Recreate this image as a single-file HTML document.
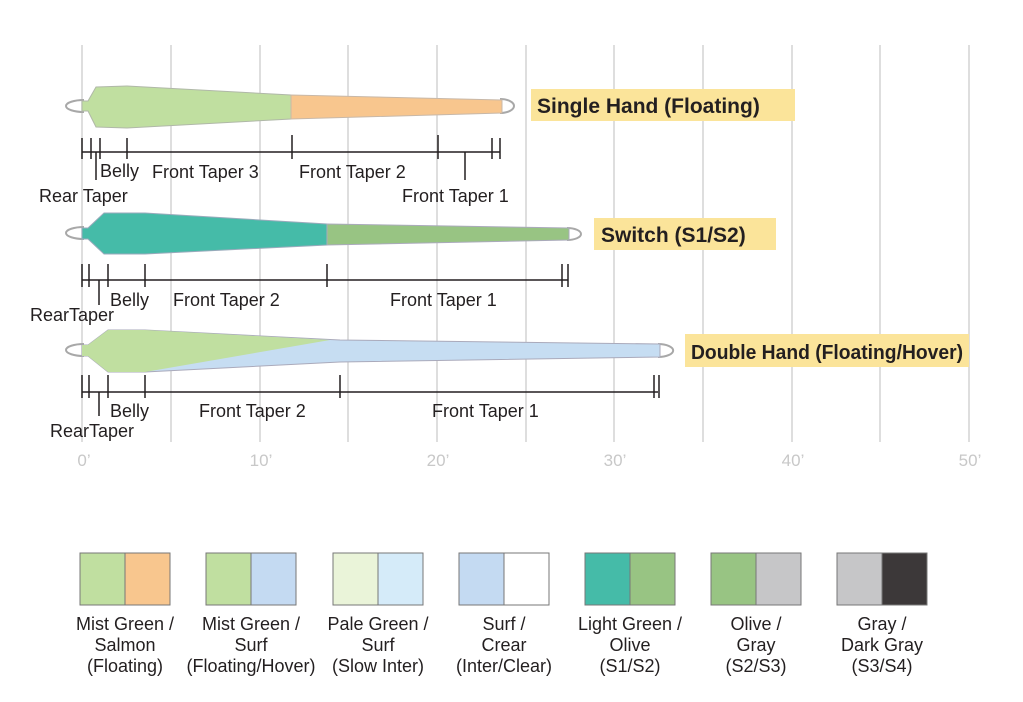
<!DOCTYPE html>
<html><head><meta charset="utf-8"><style>
html,body{margin:0;padding:0;background:#fff;}
svg{display:block;}
text{font-family:"Liberation Sans",sans-serif;fill:#231f20;}
</style></head><body>
<svg width="1023" height="702" viewBox="0 0 1023 702" xmlns="http://www.w3.org/2000/svg">
<g stroke="#d4d4d4" stroke-width="1.5">
<line x1="82" y1="45" x2="82" y2="442"/><line x1="171" y1="45" x2="171" y2="442"/>
<line x1="260" y1="45" x2="260" y2="442"/><line x1="348" y1="45" x2="348" y2="442"/>
<line x1="437" y1="45" x2="437" y2="442"/><line x1="526" y1="45" x2="526" y2="442"/>
<line x1="614" y1="45" x2="614" y2="442"/><line x1="703" y1="45" x2="703" y2="442"/>
<line x1="792" y1="45" x2="792" y2="442"/><line x1="880" y1="45" x2="880" y2="442"/>
<line x1="969" y1="45" x2="969" y2="442"/>
</g>
<g font-size="17" text-anchor="middle">
<text x="84" y="466" style="fill:#c8c8c8">0’</text><text x="261" y="466" style="fill:#c8c8c8">10’</text>
<text x="438" y="466" style="fill:#c8c8c8">20’</text><text x="615" y="466" style="fill:#c8c8c8">30’</text>
<text x="793" y="466" style="fill:#c8c8c8">40’</text><text x="970" y="466" style="fill:#c8c8c8">50’</text>
</g>

<path d="M84,100 A18,6 0 1 0 84,112" fill="none" stroke="#a8a8a8" stroke-width="2"/>
<path d="M500,99 A14,7 0 0 1 500,113" fill="none" stroke="#a8a8a8" stroke-width="2"/>
<path d="M82,101 L88,101 L96,87 L127,86 L291,95 L291,119 L127,128 L96,127 L88,111 L82,111 Z" fill="#c0dfa0" stroke="#b0b8a8" stroke-width="1"/>
<path d="M291,95 L502,100 L502,113 L291,119 Z" fill="#f8c68e" stroke="#c8b8a8" stroke-width="1"/>
<g stroke="#231f20" stroke-width="1.5">
<line x1="82" y1="152" x2="500" y2="152"/>
<line x1="82" y1="138" x2="82" y2="159"/><line x1="91" y1="138" x2="91" y2="159"/>
<line x1="100" y1="138" x2="100" y2="159"/><line x1="127" y1="138" x2="127" y2="159"/>
<line x1="292" y1="135" x2="292" y2="159"/><line x1="438" y1="135" x2="438" y2="159"/>
<line x1="492" y1="138" x2="492" y2="159"/><line x1="500" y1="138" x2="500" y2="159"/>
<line x1="96" y1="152" x2="96" y2="180"/><line x1="465" y1="152" x2="465" y2="180"/>
</g>
<g font-size="18">
<text x="100" y="177">Belly</text><text x="152" y="178">Front Taper 3</text>
<text x="299" y="178">Front Taper 2</text><text x="39" y="202">Rear Taper</text>
<text x="402" y="202">Front Taper 1</text>
</g>
<rect x="531" y="89" width="264" height="32" fill="#fbe49a"/>
<text x="537" y="113" font-size="21" font-weight="bold">Single Hand (Floating)</text>

<path d="M84,227 A18,6 0 1 0 84,239" fill="none" stroke="#a8a8a8" stroke-width="2"/>
<path d="M567,228 A14,6 0 0 1 567,240" fill="none" stroke="#a8a8a8" stroke-width="2"/>
<path d="M82,228 L88,228 L104,213 L145,213 L327,224 L327,245 L145,254 L104,254 L88,239 L82,239 Z" fill="#45bba8" stroke="#9ab" stroke-width="1"/>
<path d="M327,224 L569,228 L569,240 L327,245 Z" fill="#98c483" stroke="#aab" stroke-width="1"/>
<g stroke="#231f20" stroke-width="1.5">
<line x1="82" y1="280" x2="568" y2="280"/>
<line x1="82" y1="264" x2="82" y2="287"/><line x1="89" y1="264" x2="89" y2="287"/>
<line x1="108" y1="264" x2="108" y2="287"/><line x1="145" y1="264" x2="145" y2="287"/>
<line x1="327" y1="264" x2="327" y2="287"/><line x1="562" y1="264" x2="562" y2="287"/>
<line x1="568" y1="264" x2="568" y2="287"/><line x1="99" y1="280" x2="99" y2="305"/>
</g>
<g font-size="18">
<text x="110" y="306">Belly</text><text x="173" y="306">Front Taper 2</text>
<text x="390" y="306">Front Taper 1</text><text x="30" y="321">RearTaper</text>
</g>
<rect x="594" y="218" width="182" height="32" fill="#fbe49a"/>
<text x="601" y="242" font-size="21" font-weight="bold">Switch (S1/S2)</text>

<path d="M84,344 A18,6 0 1 0 84,356" fill="none" stroke="#a8a8a8" stroke-width="2"/>
<path d="M658,344 A14,6 0 0 1 658,357" fill="none" stroke="#a8a8a8" stroke-width="2"/>
<path d="M82,345 L88,345 L108,330 L145,330 L340,340 L660,344 L660,357 L340,362 L145,372 L108,372 L88,356 L82,356 Z" fill="#c6ddf2" stroke="#aab" stroke-width="1"/>
<path d="M82,345 L88,345 L108,330 L145,330 L330,340 L145,372 L108,372 L88,356 L82,356 Z" fill="#c0dfa0"/>
<g stroke="#231f20" stroke-width="1.5">
<line x1="82" y1="392" x2="658" y2="392"/>
<line x1="82" y1="375" x2="82" y2="398"/><line x1="89" y1="375" x2="89" y2="398"/>
<line x1="108" y1="375" x2="108" y2="398"/><line x1="145" y1="375" x2="145" y2="398"/>
<line x1="340" y1="375" x2="340" y2="398"/><line x1="654" y1="375" x2="654" y2="398"/>
<line x1="659" y1="375" x2="659" y2="398"/><line x1="99" y1="392" x2="99" y2="416"/>
</g>
<g font-size="18">
<text x="110" y="417">Belly</text><text x="199" y="417">Front Taper 2</text>
<text x="432" y="417">Front Taper 1</text><text x="50" y="437">RearTaper</text>
</g>
<rect x="685" y="334" width="284" height="33" fill="#fbe49a"/>
<text x="691" y="359" font-size="20" font-weight="bold" textLength="272" lengthAdjust="spacingAndGlyphs">Double Hand (Floating/Hover)</text>

<g stroke="#777" stroke-width="1">
<rect x="80" y="553" width="45" height="52" fill="#c0dfa0"/><rect x="125" y="553" width="45" height="52" fill="#f8c68e"/>
<rect x="206" y="553" width="45" height="52" fill="#c0dfa0"/><rect x="251" y="553" width="45" height="52" fill="#c4daf2"/>
<rect x="333" y="553" width="45" height="52" fill="#eaf4d9"/><rect x="378" y="553" width="45" height="52" fill="#d5ebf9"/>
<rect x="459" y="553" width="45" height="52" fill="#c4daf2"/><rect x="504" y="553" width="45" height="52" fill="#ffffff"/>
<rect x="585" y="553" width="45" height="52" fill="#45bba8"/><rect x="630" y="553" width="45" height="52" fill="#98c483"/>
<rect x="711" y="553" width="45" height="52" fill="#98c483"/><rect x="756" y="553" width="45" height="52" fill="#c6c6c8"/>
<rect x="837" y="553" width="45" height="52" fill="#c6c6c8"/><rect x="882" y="553" width="45" height="52" fill="#3c3839"/>
</g>
<g font-size="18" text-anchor="middle">
<text x="125" y="630">Mist Green /</text><text x="125" y="651">Salmon</text><text x="125" y="672">(Floating)</text>
<text x="251" y="630">Mist Green /</text><text x="251" y="651">Surf</text><text x="251" y="672">(Floating/Hover)</text>
<text x="378" y="630">Pale Green /</text><text x="378" y="651">Surf</text><text x="378" y="672">(Slow Inter)</text>
<text x="504" y="630">Surf /</text><text x="504" y="651">Crear</text><text x="504" y="672">(Inter/Clear)</text>
<text x="630" y="630">Light Green /</text><text x="630" y="651">Olive</text><text x="630" y="672">(S1/S2)</text>
<text x="756" y="630">Olive /</text><text x="756" y="651">Gray</text><text x="756" y="672">(S2/S3)</text>
<text x="882" y="630">Gray /</text><text x="882" y="651">Dark Gray</text><text x="882" y="672">(S3/S4)</text>
</g>
</svg>
</body></html>
